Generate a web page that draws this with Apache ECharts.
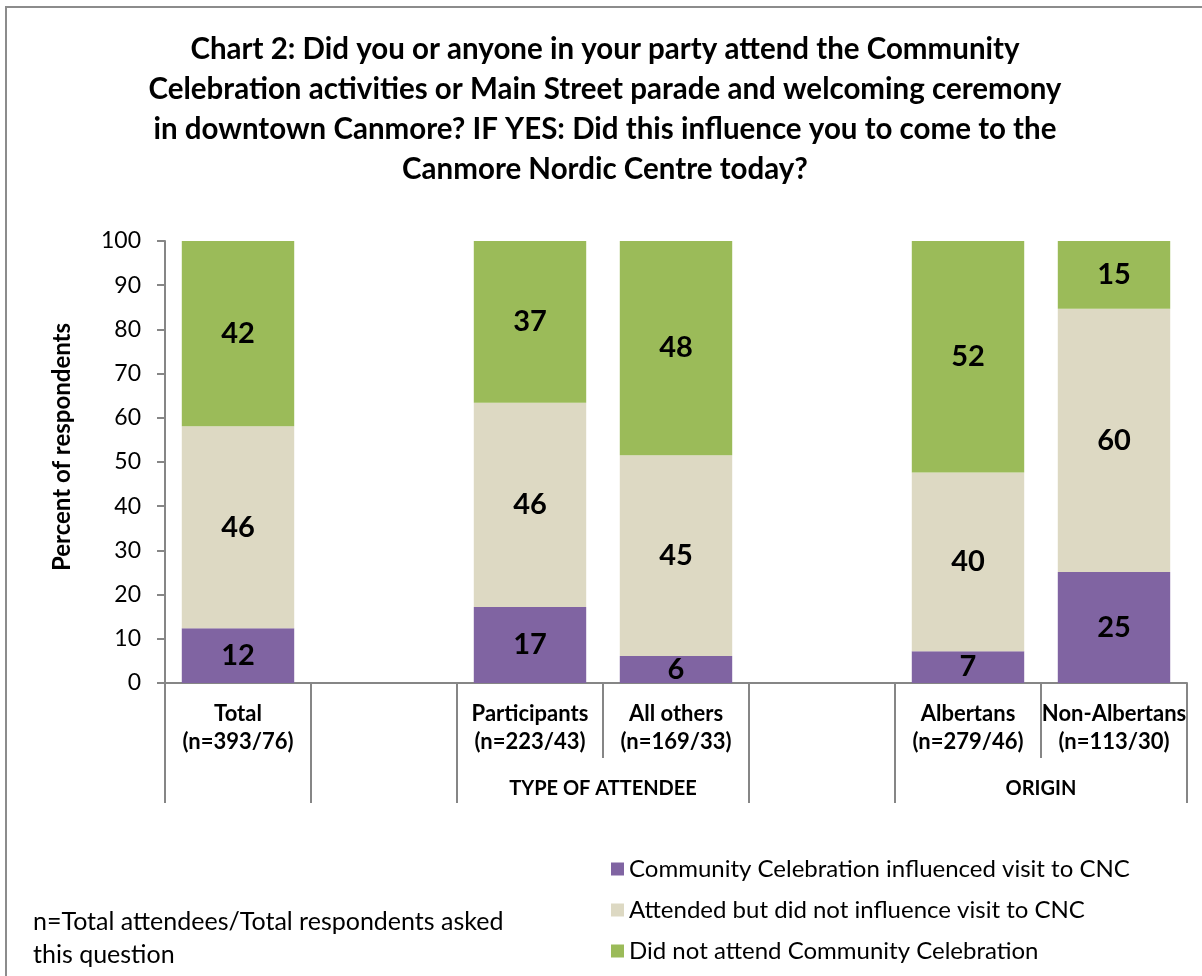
<!DOCTYPE html>
<html>
<head>
<meta charset="utf-8">
<script src="https://cdn.jsdelivr.net/npm/echarts@6/dist/echarts.min.js"></script>
<style>
html,body{margin:0;padding:0;background:#fff;}
#chart{width:1202px;height:976px;}
</style>
</head>
<body>
<div id="chart"></div>
<script>
var categories = ['Total\n(n=393/76)', ' ', 'Participants\n(n=223/43)', 'All others\n(n=169/33)', '  ', 'Albertans\n(n=279/46)', 'Non-Albertans\n(n=113/30)'];
var influenced = [12.4, null, 17.2, 6.1, null, 7.2, 25.1];
var attendedNoInfluence = [45.7, null, 46.2, 45.45, null, 40.4, 59.6];
var didNotAttend = [41.9, null, 36.6, 48.45, null, 52.4, 15.3];
var seriesNames = ['Community Celebration influenced visit to CNC', 'Attended but did not influence visit to CNC', 'Did not attend Community Celebration'];
var groupLabels = [{ text: 'TYPE OF ATTENDEE', from: 2, to: 3 }, { text: 'ORIGIN', from: 5, to: 6 }];
var longSeparators = [0, 1, 2, 4, 5, 7];
var titleText = 'Chart 2: Did you or anyone in your party attend the Community\nCelebration activities or Main Street parade and welcoming ceremony\nin downtown Canmore? IF YES: Did this influence you to come to the\nCanmore Nordic Centre today?';
var yAxisTitle = 'Percent of respondents';
var footnote = 'n=Total attendees/Total respondents asked\nthis question';

var FONT = 'Lato, "Open Sans", sans-serif';
var colors = ['#8064A2', '#DDD9C3', '#9BBB59'];
var axisGray = '#868686';

var chart = echarts.init(document.getElementById('chart'), null, { renderer: 'canvas' });

function mkSeries(name, data, color) {
  return {
    name: name, type: 'bar', stack: 'all', data: data,
    barCategoryGap: '23%',
    itemStyle: { color: color },
    label: {
      show: true, position: 'inside', color: '#000', fontFamily: FONT,
      fontWeight: 'bold', fontSize: 29,
      formatter: function (p) { return p.value == null ? '' : Math.round(p.value); }
    }
  };
}

var option = {
  backgroundColor: '#fff',
  animation: false,
  textStyle: { fontFamily: FONT },
  grid: { left: 165, right: 15, top: 241, bottom: 293, containLabel: false },
  legend: {
    orient: 'vertical', left: 606, top: 852,
    itemWidth: 13, itemHeight: 13, itemGap: 17, icon: 'rect',
    textStyle: { fontSize: 24, color: '#000', fontFamily: FONT },
    data: seriesNames
  },
  xAxis: {
    type: 'category', data: categories,
    axisLine: { lineStyle: { color: axisGray, width: 2 } },
    axisTick: { show: true, length: 75, lineStyle: { color: axisGray, width: 2 } },
    axisLabel: {
      interval: 0, margin: 17, color: '#000', fontFamily: FONT,
      fontWeight: 'bold', fontSize: 22, lineHeight: 28
    }
  },
  yAxis: {
    type: 'value', min: 0, max: 100, interval: 10,
    axisLine: { show: true, lineStyle: { color: axisGray, width: 2 } },
    axisTick: { show: true, length: 8, lineStyle: { color: axisGray, width: 2 } },
    splitLine: { show: false },
    axisLabel: { margin: 24, color: '#000', fontFamily: FONT, fontSize: 23 }
  },
  series: [
    mkSeries(seriesNames[0], influenced, colors[0]),
    mkSeries(seriesNames[1], attendedNoInfluence, colors[1]),
    mkSeries(seriesNames[2], didNotAttend, colors[2])
  ]
};
chart.setOption(option);

function buildGraphics() {
  var c0 = chart.convertToPixel({ xAxisIndex: 0 }, 0);
  var c1 = chart.convertToPixel({ xAxisIndex: 0 }, 1);
  var band = c1 - c0;
  var left = c0 - band / 2;
  var axisY = chart.convertToPixel({ yAxisIndex: 0 }, 0);
  var topY = chart.convertToPixel({ yAxisIndex: 0 }, 100);
  var g = [];
  g.push({ type: 'rect', shape: { x: 6, y: 7, width: 1400, height: 1200 }, style: { fill: null, stroke: '#8c8c8c', lineWidth: 2 }, silent: true, z: 0 });
  g.push({ type: 'text', x: 605, y: 29, style: { text: titleText, textAlign: 'center', fontFamily: FONT, fontWeight: 'bold', fontSize: 29.5, lineHeight: 40, fill: '#000' } });
  g.push({ type: 'text', x: 62, y: (axisY + topY) / 2 - 15, rotation: Math.PI / 2, style: { text: yAxisTitle, textAlign: 'center', textVerticalAlign: 'middle', fontFamily: FONT, fontWeight: 'bold', fontSize: 24, fill: '#000' } });
  g.push({ type: 'text', x: 33, y: 905, style: { text: footnote, fontFamily: FONT, fontSize: 25, lineHeight: 33, fill: '#000' } });
  longSeparators.forEach(function (i) {
    var x = Math.round(left + i * band);
    g.push({ type: 'line', shape: { x1: x, y1: axisY, x2: x, y2: axisY + 120 }, style: { stroke: axisGray, lineWidth: 2 }, silent: true });
  });
  groupLabels.forEach(function (gl) {
    var cx = left + (gl.from + gl.to + 1) / 2 * band;
    g.push({ type: 'text', x: cx, y: axisY + 106, style: { text: gl.text, textAlign: 'center', textVerticalAlign: 'middle', fontFamily: FONT, fontWeight: 'bold', fontSize: 20, fill: '#000' } });
  });
  chart.setOption({ graphic: { elements: g } });
}
buildGraphics();
</script>
</body>
</html>
